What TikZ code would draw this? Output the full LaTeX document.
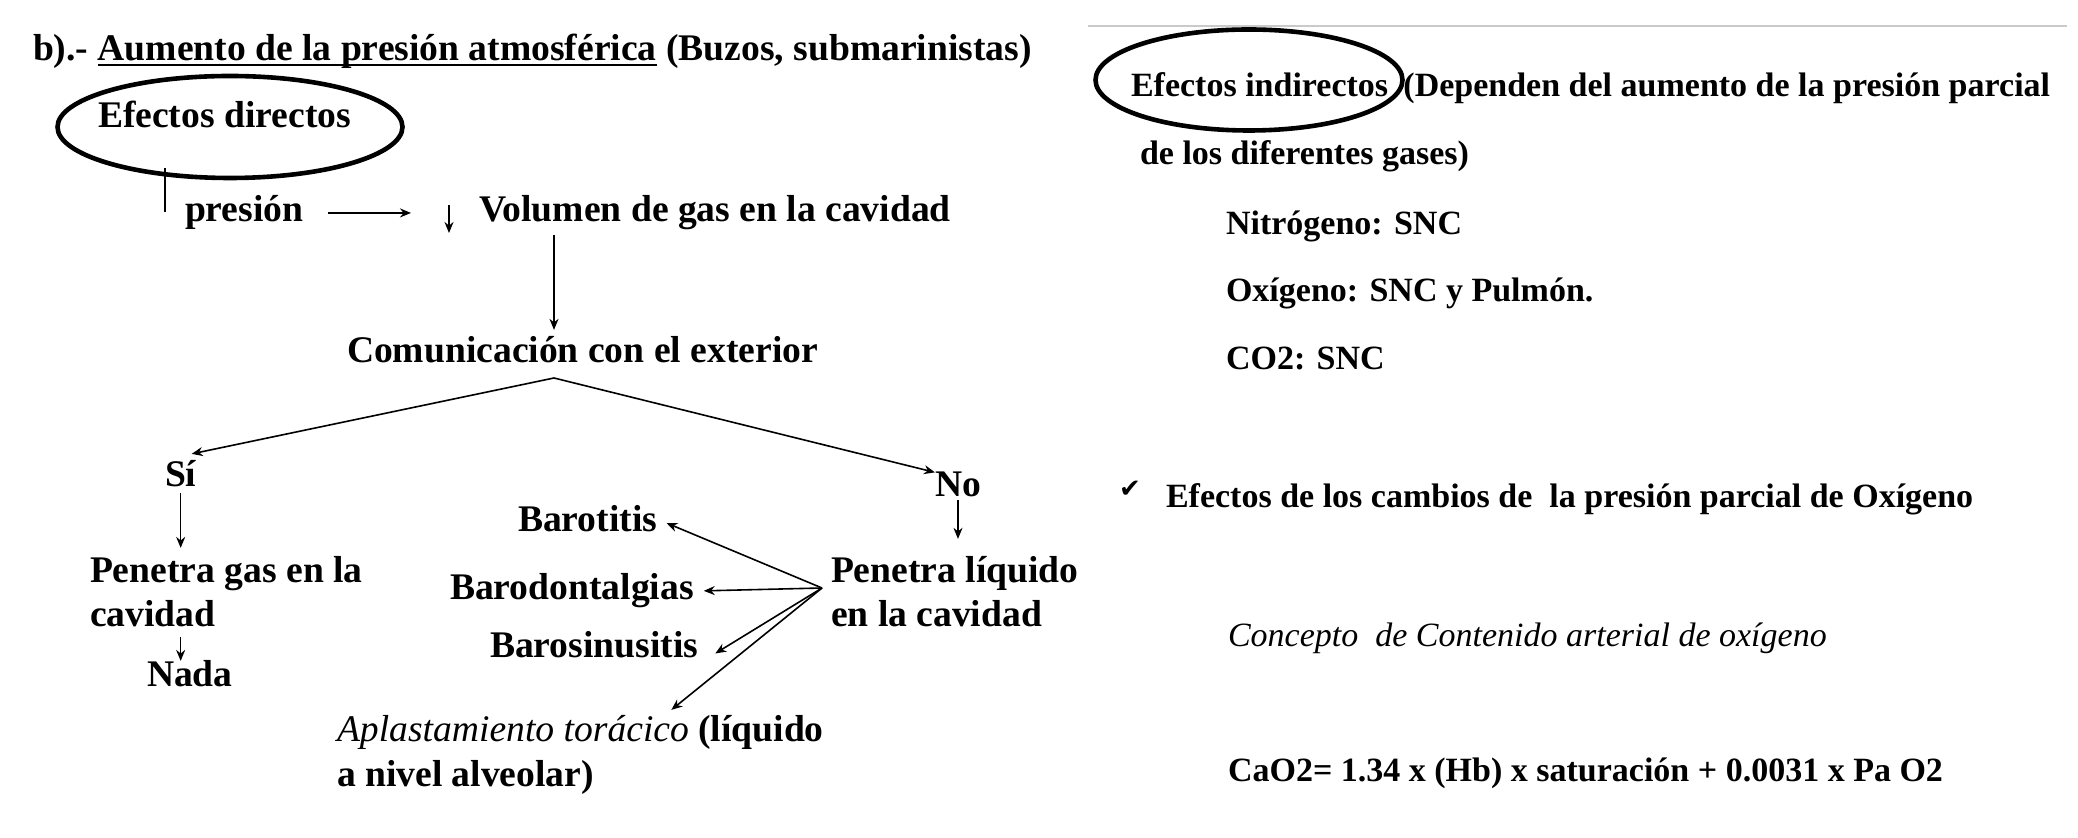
\documentclass[tikz,border=0pt]{standalone}
\usepackage{fontspec}
\setmainfont{Liberation Serif}
\newfontfamily\simbolos{DejaVu Sans}
\usetikzlibrary{arrows.meta,shapes.geometric}
\definecolor{LineaGris}{HTML}{CACACA}
\newcommand{\subraya}[1]{\setbox0\hbox{#1}\rlap{\rule[-2.4pt]{\wd0}{0.9pt}}\box0\relax}

\begin{document}
\begin{tikzpicture}[x=0.5pt,y=-0.5pt,
  izq/.style={font=\fontsize{18.8}{22}\selectfont\bfseries, inner sep=0pt, outer sep=0pt, anchor=base west},
  der/.style={font=\fontsize{17}{20}\selectfont\bfseries, inner sep=0pt, outer sep=0pt, anchor=base west},
  elipse/.style={draw, ellipse, line width=2.3pt, inner sep=0pt},
  flecha/.style={-{Stealth[length=5.5pt,width=4.5pt]}, line width=0.8pt}]
  \path[fill=white] (0,0) rectangle (2078,838);

  \node[izq] (titulo) at (33,61) {b).- \subraya{Aumento de la presión atmosférica} (Buzos, submarinistas)};
  \node[elipse, minimum width=172.5pt, minimum height=51pt] (elDir) at (230,127) {};
  \node[izq] (directos) at (98,128) {Efectos directos};
  \node[izq] (presion) at (185,222) {presión};
  \node[izq] (volumen) at (479,222) {Volumen de gas en la cavidad};
  \node[izq] (comunic) at (347,363) {Comunicación con el exterior};
  \node[izq] (si) at (165,487) {Sí};
  \node[izq] (no) at (935,497) {No};
  \node[izq] (gas1) at (90,583) {Penetra gas en la};
  \node[izq] (gas2) at (90,627) {cavidad};
  \node[izq] (nada) at (147,687) {Nada};
  \node[izq] (liq1) at (831,583) {Penetra líquido};
  \node[izq] (liq2) at (831,627) {en la cavidad};
  \node[izq] (barotitis) at (518,532) {Barotitis};
  \node[izq] (barodont) at (450,600) {Barodontalgias};
  \node[izq] (barosin) at (490,658) {Barosinusitis};
  \node[izq] (aplasta1) at (337,742) {{\mdseries\itshape Aplastamiento torácico} (líquido};
  \node[izq] (aplasta2) at (337,787) {a nivel alveolar)};

  \coordinate (subeIni) at (165,212);
  \coordinate (subeFin) at (165,168);
  \coordinate (bajaIni) at (449,205);
  \coordinate (bajaFin) at (449,233);
  \coordinate (apice) at (554,378);
  \coordinate (abanico) at ([shift={(-9,-3)}]liq1.south west);

  \draw[line width=0.8pt] (subeIni) -- (subeFin);
  \draw[flecha, shorten <=12.5pt, shorten >=19pt] (presion.east) -- (presion.east -| bajaIni);
  \draw[flecha] (bajaIni) -- (bajaFin);
  \draw[flecha, shorten <=2.5pt, shorten >=3.5pt] (apice |- volumen.south) -- (apice |- comunic.north);
  \draw[flecha] (apice) -- ([shift={(11,-7)}]si.north);
  \draw[flecha] (apice) -- (no.north west);
  \draw[flecha, shorten <=3pt, shorten >=4.5pt] (si.south) -- (si.south |- gas1.north);
  \draw[flecha, shorten <=5pt] (si.south |- gas2.south) -- (si.south |- nada.north);
  \draw[flecha, shorten <=1.5pt, shorten >=9pt] (no.south) -- (no.south |- liq1.north);
  \foreach \dst in {barotitis, barodont}
    \draw[flecha, shorten >=5pt] (abanico) -- (\dst.east);
  \draw[flecha] (abanico) -- ([shift={(17,-5)}]barosin.south east);
  \draw[flecha] (abanico) -- ([shift={(91,-6)}]aplasta1.north);

  \draw[LineaGris, line width=1pt] (1088,26) -- (2067,26);
  \node[elipse, minimum width=153.5pt, minimum height=50.5pt] (elInd) at (1249,80) {};
  \node[der] (indirectos) at (1131,97) {Efectos indirectos\hspace{0.2em} (Dependen del aumento de la presión parcial};
  \node[der] (gases) at (1140,165) {de los diferentes gases)};
  \foreach \n/\y/\t in {nitro/235/{Nitrógeno: SNC}, oxi/302/{Oxígeno: SNC y Pulmón.}, codos/370/{CO2: SNC}}
    \node[der] (\n) at (1226,\y) {\t};
  \node[inner sep=0pt, font=\simbolos\fontsize{13}{15}\selectfont] (marca) at (1130,489) {✔};
  \node[der] (cambios) at (1166,508) {Efectos de los cambios de~ la presión parcial de Oxígeno};
  \node[der, font=\fontsize{17}{20}\selectfont\mdseries\itshape] (concepto) at (1228,647) {Concepto~ de Contenido arterial de oxígeno};
  \node[der] (formula) at (1228,782) {CaO2= 1.34 x (Hb) x saturación + 0.0031 x Pa O2};
\end{tikzpicture}
\end{document}
